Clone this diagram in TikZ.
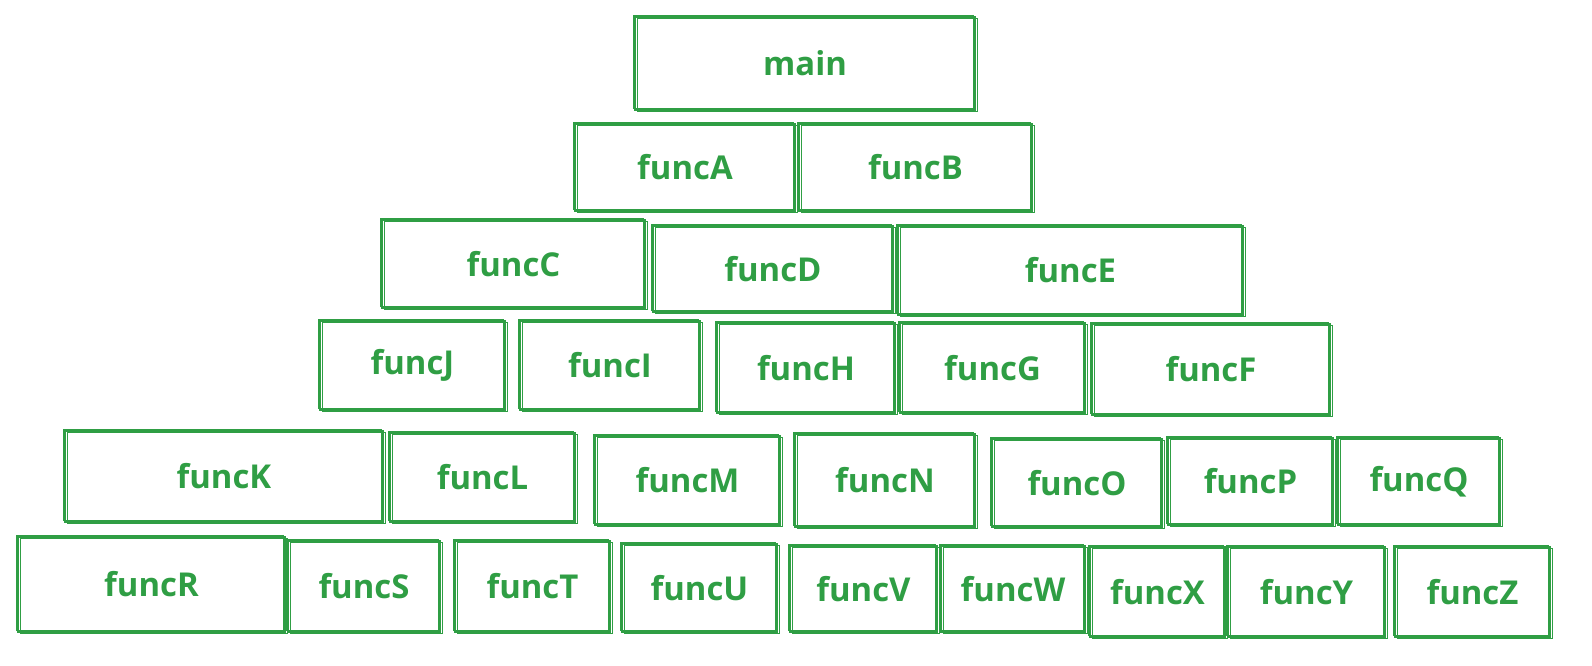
\documentclass[tikz,border=0pt]{standalone}
\usepackage{fontspec}
\setmainfont{Open Sans}
\definecolor{sk}{HTML}{2F9E44}
\begin{document}
\begin{tikzpicture}[x=0.5bp,y=-0.5bp,
  box/.style={draw=sk,line width=0.6pt,text=sk,font=\fontsize{16.5}{18}\selectfont\bfseries,inner sep=0pt,
    preaction={draw=sk,line width=0.5pt,transform canvas={shift={(1.2pt,-1pt)}}},
    preaction={draw=sk,line width=0.4pt,transform canvas={shift={(-0.8pt,0.7pt)}}}}]
\useasboundingbox (0,0) rectangle (1592,666);
\newcommand\bx[6]{\node[box,minimum width={(#4-#2)*0.5bp},minimum height={(#5-#3)*0.5bp}] (#1) at ({(#2+#4)/2},{(#3+#5)/2}) {#6};}
\bx{main}{635}{17}{975}{110}{main}
\bx{fA}{575}{124}{795}{211}{funcA}
\bx{fB}{799}{124}{1032}{211}{funcB}
\bx{fC}{382}{220}{645}{308}{funcC}
\bx{fD}{653}{226}{893}{312}{funcD}
\bx{fE}{898}{226}{1243}{315}{funcE}
\bx{fJ}{320}{321}{505}{410}{funcJ}
\bx{fI}{520}{321}{700}{410}{funcI}
\bx{fH}{717}{323}{895}{413}{funcH}
\bx{fG}{900}{323}{1085}{413}{funcG}
\bx{fF}{1092}{324}{1330}{415}{funcF}
\bx{fK}{65}{431}{383}{522}{funcK}
\bx{fL}{390}{433}{575}{522}{funcL}
\bx{fM}{595}{436}{780}{525}{funcM}
\bx{fN}{795}{434}{975}{527}{funcN}
\bx{fO}{992}{439}{1162}{527}{funcO}
\bx{fP}{1168}{438}{1333}{525}{funcP}
\bx{fQ}{1338}{438}{1500}{525}{funcQ}
\bx{fR}{18}{537}{285}{632}{funcR}
\bx{fS}{288}{541}{440}{632}{funcS}
\bx{fT}{455}{541}{610}{632}{funcT}
\bx{fU}{622}{544}{777}{632}{funcU}
\bx{fV}{790}{546}{937}{632}{funcV}
\bx{fW}{941}{546}{1085}{632}{funcW}
\bx{fX}{1090}{547}{1225}{637}{funcX}
\bx{fY}{1228}{547}{1385}{637}{funcY}
\bx{fZ}{1395}{547}{1550}{637}{funcZ}
\end{tikzpicture}
\end{document}
